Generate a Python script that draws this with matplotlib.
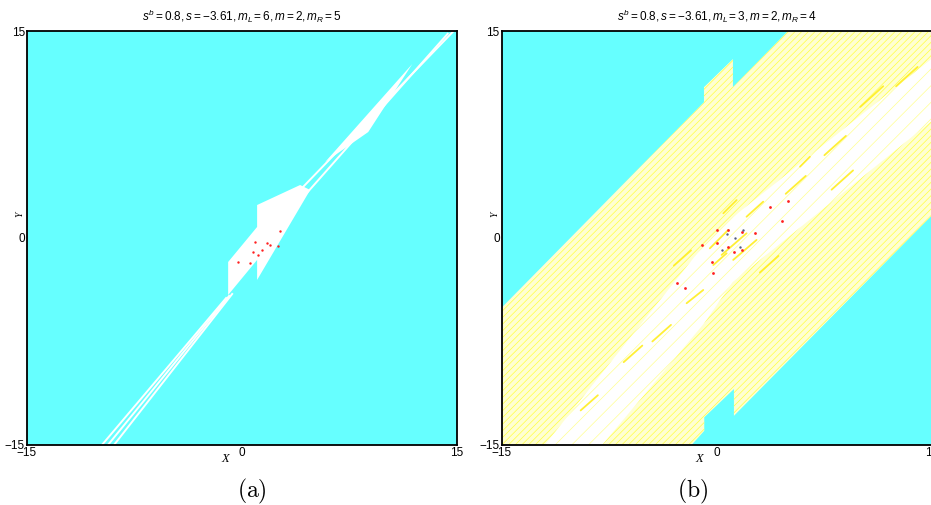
import numpy as np
import matplotlib.pyplot as plt
from matplotlib.patches import Polygon

plt.rcParams['font.family'] = ['Liberation Sans', 'DejaVu Sans']
plt.rcParams['mathtext.fontset'] = 'custom'
plt.rcParams['mathtext.rm'] = 'Liberation Sans'
plt.rcParams['mathtext.it'] = 'Liberation Sans:italic'
plt.rcParams['hatch.linewidth'] = 0.5

cyan = '#66ffff'

# ---- panel (a): white (non-cyan) regions, vertices in (X, Y)
a_wedge_x = [5.80, 11.87, 8.80]
a_wedge_y = [5.51, 12.61, 7.68]
a_center_x = [-0.97, 1.05, 1.05, 4.05, 4.75, 1.05, 1.05, -0.97]
a_center_y = [-1.74, 0.80, 2.39, 3.84, 3.48, -3.04, -1.59, -4.13]
# thin white streaks (x0, y0, x1, y1)
a_streaks = [(-9.77, -15.0, -1.11, -4.35), (-9.35, -15.0, -0.90, -4.20),
             (-8.93, -15.0, -0.69, -4.06), (4.05, 3.48, 14.69, 14.93),
             (4.40, 3.12, 14.34, 14.80)]
a_red_x = [0.91, 1.73, 1.96, 0.77, 1.38, 1.12, 2.66, 2.54, -0.25, 0.56]
a_red_y = [-0.27, -0.38, -0.51, -0.99, -0.87, -1.23, 0.53, -0.58, -1.72, -1.83]

# ---- panel (b): yellow band, white inner zone, streaks, dots
b_band_x = [-15, -0.9, -0.9, 1.12, 1.12, 4.96, 15, 15, 1.19, 1.19, -0.88, -0.88, -1.76, -15]
b_band_y = [-5.04, 9.84, 10.93, 12.97, 10.93, 15, 15, 1.64, -12.89, -10.95, -13.0, -13.98, -15, -15]
b_inner_x = [-12.0, -8.0, -0.9, 1.1, 15, 15, 1.1, -0.9]
b_inner_y = [-15, -15, -6.2, -3.2, 8.5, 13.0, 1.5, -0.5]
b_streaks = [(-0.49, -0.75, 0.79, 0.58), (0.33, -1.23, 2.07, 0.34), (1.14, -1.59, 2.77, -0.14),
             (-0.25, -1.96, 0.68, -1.11), (2.07, 1.54, 3.23, 2.63), (0.45, 1.79, 1.38, 2.75),
             (-2.11, -4.73, -0.95, -3.77), (5.80, 5.17, 6.49, 5.89), (-9.5, -12.5, -8.3, -11.4),
             (-6.5, -9.0, -5.2, -7.8), (-4.5, -7.5, -3.2, -6.3), (4.8, 3.2, 6.2, 4.5),
             (7.5, 6.0, 9.0, 7.4), (10.0, 9.5, 11.6, 11.0), (12.5, 11.0, 14.0, 12.4),
             (8.0, 3.5, 9.5, 4.9), (-3.0, -2.0, -1.8, -0.9), (3.0, -2.5, 4.3, -1.3)]
b_red_x = [-1.06, -0.02, 0.77, 1.73, 2.66, 3.70, 4.96, 4.52, -0.02, 0.77, 1.73, 1.19, -0.37, -0.28, -2.81, -2.23]
b_red_y = [-0.51, 0.58, 0.58, 0.46, 0.36, 2.27, 2.70, 1.25, -0.36, -0.63, -0.87, -0.99, -1.72, -2.54, -3.26, -3.62]
b_dark_x = [0.68, 1.26, 0.33, 1.61, 1.84]
b_dark_y = [0.29, -0.02, -0.87, -0.63, 0.58]

titles = [r'$s^b=0.8,s=-3.61,m_L=6,m=2,m_R=5$',
          r'$s^b=0.8,s=-3.61,m_L=3,m=2,m_R=4$']
panel_labels = [r'$\mathrm{(a)}$', r'$\mathrm{(b)}$']


def setup(ax, title):
    ax.set_xlim(-15, 15)
    ax.set_ylim(-15, 15)
    ax.set_facecolor(cyan)
    ax.set_xticks([-15, 0, 15])
    ax.set_yticks([-15, 0, 15])
    ax.tick_params(length=0, labelsize=8.5, pad=1.5)
    for s in ax.spines.values():
        s.set_linewidth(1.3)
    ax.set_title(title, fontsize=8.5, pad=7)
    ax.text(-1.2, -16.0, 'X', fontsize=9, family='Liberation Serif', style='italic',
            ha='center', va='center', clip_on=False)
    ax.text(-15.5, 1.7, 'Y', fontsize=7, family='Liberation Serif', style='italic',
            rotation=90, ha='center', va='center', clip_on=False)


fig = plt.figure(figsize=(9.31, 5.05), dpi=100)
ax1 = fig.add_axes([0.029, 0.119, 0.462, 0.8195])
ax2 = fig.add_axes([0.539, 0.119, 0.462, 0.8195])

# panel (a)
setup(ax1, titles[0])
for xs, ys in [(a_wedge_x, a_wedge_y), (a_center_x, a_center_y)]:
    ax1.add_patch(Polygon(np.column_stack([xs, ys]), closed=True, facecolor='white', edgecolor='none'))
for x0, y0, x1, y1 in a_streaks:
    ax1.plot([x0, x1], [y0, y1], color='white', lw=1.4)
ax1.scatter(a_red_x, a_red_y, s=3, color='#ff2020', linewidths=0)

# panel (b)
setup(ax2, titles[1])
ax2.add_patch(Polygon(np.column_stack([b_band_x, b_band_y]), closed=True, facecolor='#ffffd2',
                      edgecolor='#ffff40', linewidth=0, hatch='/' * 5))
ax2.add_patch(Polygon(np.column_stack([b_inner_x, b_inner_y]), closed=True, facecolor='white',
                      edgecolor='#ffff90', linewidth=0, hatch='/' * 2))
for x0, y0, x1, y1 in b_streaks:
    ax2.plot([x0, x1], [y0, y1], color='#ffee20', lw=1.3, alpha=0.9, solid_capstyle='round')
ax2.scatter(b_red_x, b_red_y, s=4, color='#ff2020', linewidths=0, zorder=3)
ax2.scatter(b_dark_x, b_dark_y, s=3, color='#556080', linewidths=0, zorder=3)

fig.text(0.2707, 0.026, panel_labels[0], fontsize=17, math_fontfamily='cm',
         ha='center', va='center')
fig.text(0.744, 0.026, panel_labels[1], fontsize=17, math_fontfamily='cm',
         ha='center', va='center')

fig.savefig('out.png', dpi=100)
